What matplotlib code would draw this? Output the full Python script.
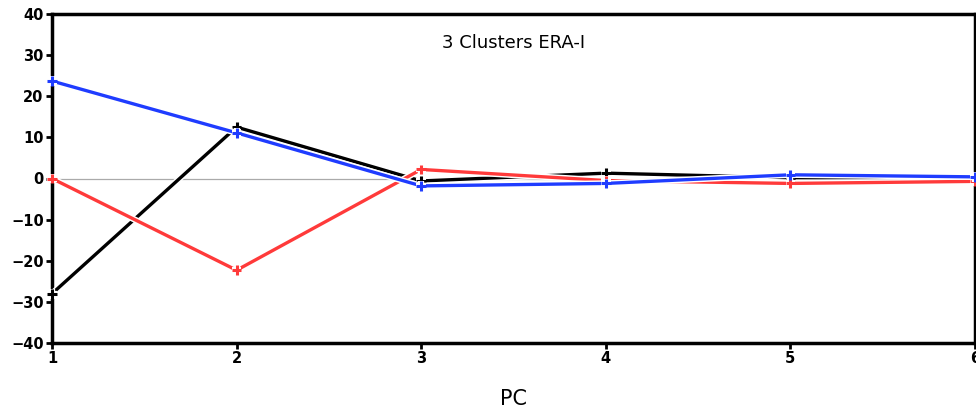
import matplotlib
matplotlib.use("Agg")
import matplotlib.pyplot as plt
import matplotlib.patheffects as pe

# data
pc = [1, 2, 3, 4, 5, 6]
cluster_black = [-28.0, 12.5, -0.6, 1.3, 0.2, 0.2]
cluster_blue = [23.7, 11.1, -1.8, -1.2, 0.9, 0.4]
cluster_red = [0.0, -22.3, 2.2, -0.5, -1.2, -0.7]

fig = plt.figure(figsize=(9.76, 4.09), dpi=100)
ax = fig.add_axes([52 / 976, 66 / 409, 923 / 976, 329 / 409])

ax.axhline(0, color="#aaaaaa", linewidth=0.9, zorder=1)

halo = [pe.Stroke(linewidth=4.5, foreground="white"), pe.Normal()]
for vals, col in [(cluster_black, "black"), (cluster_red, "#ff3a3a"), (cluster_blue, "#1f3cff")]:
    ax.plot(pc, vals, color=col, linewidth=2.4, marker="+", markersize=7,
            markeredgewidth=2.2, path_effects=halo, zorder=3, clip_on=False)

ax.set_xlim(1, 6)
ax.set_ylim(-40, 40)
ax.set_xticks(pc)
ax.set_yticks(range(-40, 41, 10))
ax.tick_params(direction="out", length=4, width=2, labelsize=10.5, pad=2)
for lab in ax.get_xticklabels() + ax.get_yticklabels():
    lab.set_fontweight("bold")
for sp in ax.spines.values():
    sp.set_linewidth(2.5)

ax.text(3.5, 33, "3 Clusters ERA-I", ha="center", va="center", fontsize=13)
ax.set_xlabel("PC", fontsize=15, labelpad=16)

fig.savefig("out.png", dpi=100)
